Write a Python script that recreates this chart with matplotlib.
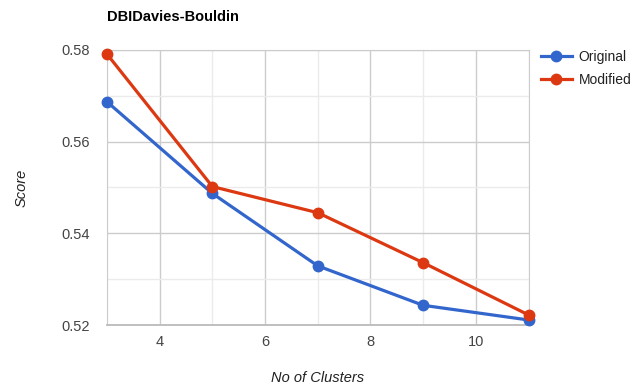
import matplotlib
matplotlib.use("Agg")
import matplotlib.pyplot as plt
from matplotlib.ticker import MultipleLocator

# Davies-Bouldin index per cluster count
clusters = [3, 5, 7, 9, 11]
original = [0.5687, 0.5487, 0.5329, 0.5243, 0.5211]
modified = [0.5791, 0.5502, 0.5445, 0.5336, 0.5222]

plt.rcParams['font.family'] = ['Arial', 'Liberation Sans', 'DejaVu Sans']

fig = plt.figure(figsize=(6.35, 3.89), dpi=100)
ax = fig.add_axes([0.1685, 0.1645, 0.6638, 0.707])

ax.plot(clusters, original, color="#3366CC", lw=2.3, marker="o", ms=7.5,
        label="Original", zorder=3, clip_on=False)
ax.plot(clusters, modified, color="#DC3912", lw=2.3, marker="o", ms=7.5,
        label="Modified", zorder=3, clip_on=False)

ax.set_xlim(3, 11)
ax.set_ylim(0.52, 0.58)
ax.xaxis.set_minor_locator(MultipleLocator(1))
ax.yaxis.set_major_locator(MultipleLocator(0.02))
ax.yaxis.set_minor_locator(MultipleLocator(0.01))
ax.set_xticks([4, 6, 8, 10])
ax.yaxis.set_major_formatter(matplotlib.ticker.FormatStrFormatter('%.2f'))

ax.grid(which="major", color="#cccccc", lw=1)
ax.grid(which="minor", color="#ebebeb", lw=1)
ax.set_axisbelow(True)
ax.tick_params(which="both", length=0, labelsize=10.5, colors="#444444")
ax.tick_params(axis="x", pad=7)
ax.tick_params(axis="y", pad=12)
for side in ["top", "right", "left"]:
    ax.spines[side].set_color("#cccccc")
ax.spines["bottom"].set_color("#bbbbbb")
ax.spines["bottom"].set_linewidth(1.3)

ax.set_xlabel("No of Clusters", fontsize=10.5, style="italic", color="#222222", labelpad=16)
ax.set_ylabel("Score", fontsize=10.5, style="italic", color="#222222", labelpad=24)
fig.text(0.1685, 0.956, "DBIDavies-Bouldin", fontsize=10.5, fontweight="bold",
         color="#000000", va="center")

ax.legend(loc="upper left", bbox_to_anchor=(1.0, 1.045), frameon=False,
          fontsize=10, handlelength=2.2, handletextpad=0.5, labelspacing=0.65,
          labelcolor="#222222")

fig.savefig("out.png", dpi=100)
